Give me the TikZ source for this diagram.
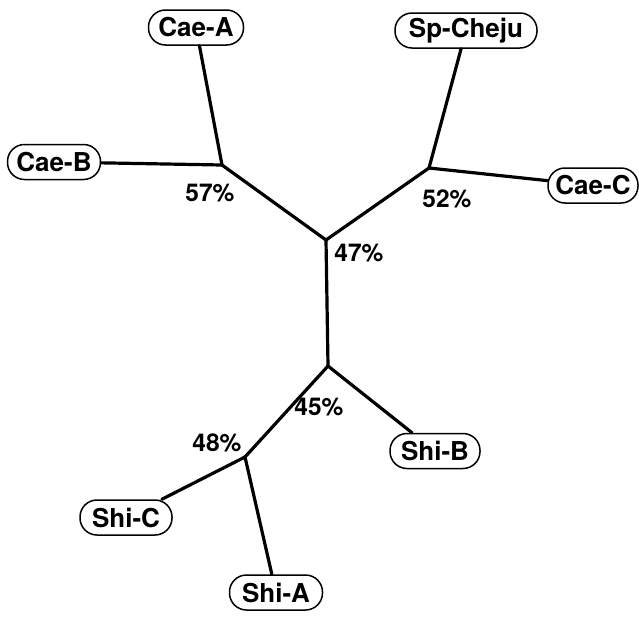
\documentclass[tikz,border=0pt]{standalone}
\usepackage{fontspec}
\setmainfont{TeX Gyre Heros}
\begin{document}
\begin{tikzpicture}[x=1pt,y=-1pt,
  leaf/.style={draw,line width=1.5pt,rounded corners=17pt,minimum height=35pt,
    inner xsep=0pt,fill=white,font=\fontsize{26}{30}\selectfont\bfseries},
  branch/.style={line width=3.2pt,line cap=round,line join=round},
  pct/.style={font=\fontsize{24.5}{28}\selectfont\bfseries,inner sep=0pt}]
\useasboundingbox (0,0) rectangle (639,616);
% internal nodes of the tree
\coordinate (jA) at (222,165);
\coordinate (jT) at (326,240);
\coordinate (jB) at (429,168);
\coordinate (jM) at (328,366);
\coordinate (jC) at (245,457);
% leaves
\node[leaf,minimum width=95pt] (caeA) at (196,27.5) {Cae-A};
\node[leaf,minimum width=93pt] (caeB) at (54,162) {Cae-B};
\node[leaf,minimum width=142pt] (cheju) at (466,30.5) {Sp-Cheju};
\node[leaf,minimum width=90pt] (caeC) at (593,185.5) {Cae-C};
\node[leaf,minimum width=90pt] (shiB) at (435,451) {Shi-B};
\node[leaf,minimum width=92pt] (shiC) at (126,517.5) {Shi-C};
\node[leaf,minimum width=93pt] (shiA) at (276,592.5) {Shi-A};
% branches
\draw[branch] (jA) -- (caeA);
\draw[branch] (jA) -- (caeB);
\draw[branch] (jA) -- (jT) -- (jB);
\draw[branch] (jB) -- (cheju);
\draw[branch] (jB) -- (caeC);
\draw[branch] (jT) -- (jM);
\draw[branch] (jM) -- (shiB);
\draw[branch] (jM) -- (jC);
\draw[branch] (jC) -- (shiC);
\draw[branch] (jC) -- (shiA);
% support values
\node[pct] (p57) at (210,193) {57\%};
\node[pct] (p52) at (447,199) {52\%};
\node[pct] (p47) at (359,253) {47\%};
\node[pct] (p45) at (319,407) {45\%};
\node[pct] (p48) at (217,443) {48\%};
\end{tikzpicture}
\end{document}
